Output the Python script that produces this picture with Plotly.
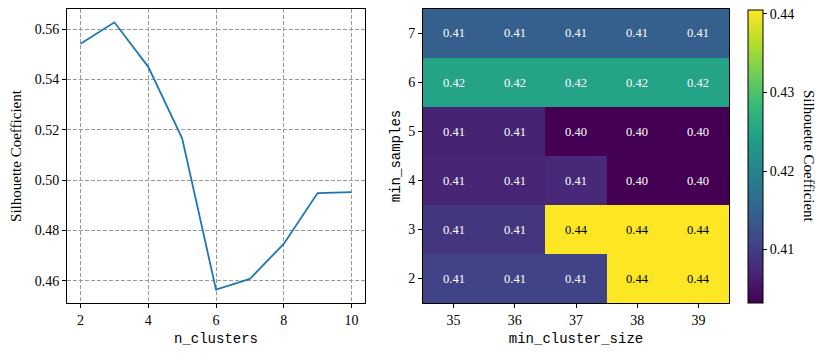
import plotly.graph_objects as go

# silhouette score vs number of clusters
n_clusters = [2, 3, 4, 5, 6, 7, 8, 9, 10]
sil_kmeans = [0.5542, 0.5627, 0.5450, 0.5166, 0.4564, 0.4607, 0.4746, 0.4948, 0.4952]

# grid search: min_cluster_size x min_samples
min_cluster_size = [35, 36, 37, 38, 39]
min_samples = [2, 3, 4, 5, 6, 7]
sil_grid = [
    [0.4107, 0.4107, 0.4107, 0.4405, 0.4405],  # min_samples = 2
    [0.4090, 0.4090, 0.4405, 0.4405, 0.4405],  # 3
    [0.4070, 0.4070, 0.4075, 0.4032, 0.4032],  # 4
    [0.4068, 0.4068, 0.4032, 0.4032, 0.4032],  # 5
    [0.4248, 0.4248, 0.4248, 0.4248, 0.4248],  # 6
    [0.4144, 0.4144, 0.4144, 0.4144, 0.4144],  # 7
]
cbar_ticks = [0.41, 0.42, 0.43, 0.44]

W, H = 830, 357
OFF = 8  # page body margin
serif = "Liberation Serif"
mono = "Liberation Mono"

def px_x(a, b):
    return [(a - OFF) / W, (b - OFF) / W]

def px_y(top, bottom):
    return [1 - (bottom - OFF) / H, 1 - (top - OFF) / H]

fig = go.Figure()

fig.add_trace(go.Scatter(
    x=n_clusters, y=sil_kmeans, mode="lines",
    line=dict(color="#1f77b4", width=1.8),
    xaxis="x", yaxis="y", showlegend=False,
))

zmin, zmax = 0.4032, 0.4405
fig.add_trace(go.Heatmap(
    x=min_cluster_size, y=min_samples, z=sil_grid,
    colorscale="Viridis", zmin=zmin, zmax=zmax,
    xaxis="x2", yaxis="y2",
    colorbar=dict(
        x=(748 - OFF) / W, xanchor="left", xpad=0,
        y=1 - (303 - OFF) / H, yanchor="bottom", ypad=0,
        len=(303 - 10) / H, lenmode="fraction",
        thickness=15, outlinecolor="black", outlinewidth=1,
        tickvals=cbar_ticks, ticktext=["%.2f" % t for t in cbar_ticks],
        ticks="outside", ticklen=4, tickcolor="black",
        ticklabeloverflow="allow",
        tickfont=dict(family=serif, size=14, color="black"),
    ),
))

# cell labels
annotations = []
for i, ms in enumerate(min_samples):
    for j, mcs in enumerate(min_cluster_size):
        v = sil_grid[i][j]
        frac = (v - zmin) / (zmax - zmin)
        annotations.append(dict(
            x=mcs, y=ms, xref="x2", yref="y2", text="%.2f" % v,
            showarrow=False,
            font=dict(family=serif, size=12.5, color="black" if frac > 0.6 else "white"),
        ))

annotations.append(dict(
    x=(809 - OFF) / W, y=1 - (156 - OFF) / H, xref="paper", yref="paper",
    text="Silhouette Coefficient", textangle=90, showarrow=False,
    xanchor="center", yanchor="middle",
    font=dict(family=serif, size=15, color="black"),
))

axis_common = dict(
    showline=True, linecolor="black", linewidth=1, mirror=True,
    ticks="outside", ticklen=4, tickcolor="black",
    tickfont=dict(family=serif, size=14, color="black"),
    zeroline=False,
)
grid = dict(showgrid=True, gridcolor="#9a9a9a", griddash="4px,2px", gridwidth=1)

fig.update_layout(
    width=W, height=H,
    margin=dict(l=0, r=0, t=0, b=0),
    paper_bgcolor="white", plot_bgcolor="white",
    annotations=annotations,
    xaxis=dict(
        axis_common, **grid, domain=px_x(67, 365), range=[1.6, 10.4],
        tickvals=[2, 4, 6, 8, 10],
        title=dict(text="n_clusters", font=dict(family=mono, size=14, color="black"), standoff=6),
        automargin=False,
    ),
    yaxis=dict(
        axis_common, **grid, domain=px_y(9, 303), range=[0.4511, 0.5680],
        tickvals=[0.46, 0.48, 0.50, 0.52, 0.54, 0.56], tickformat=".2f",
        title=dict(text="Silhouette Coefficient", font=dict(family=serif, size=15, color="black"), standoff=12),
        automargin=False,
    ),
    xaxis2=dict(
        axis_common, domain=px_x(423, 729), anchor="y2",
        tickvals=min_cluster_size, showgrid=False,
        title=dict(text="min_cluster_size", font=dict(family=mono, size=14, color="black"), standoff=6),
        automargin=False,
    ),
    yaxis2=dict(
        axis_common, domain=px_y(9, 303), anchor="x2",
        tickvals=min_samples, showgrid=False,
        title=dict(text="min_samples", font=dict(family=mono, size=14, color="black"), standoff=4),
        automargin=False,
    ),
)

fig.write_html("out.html")
